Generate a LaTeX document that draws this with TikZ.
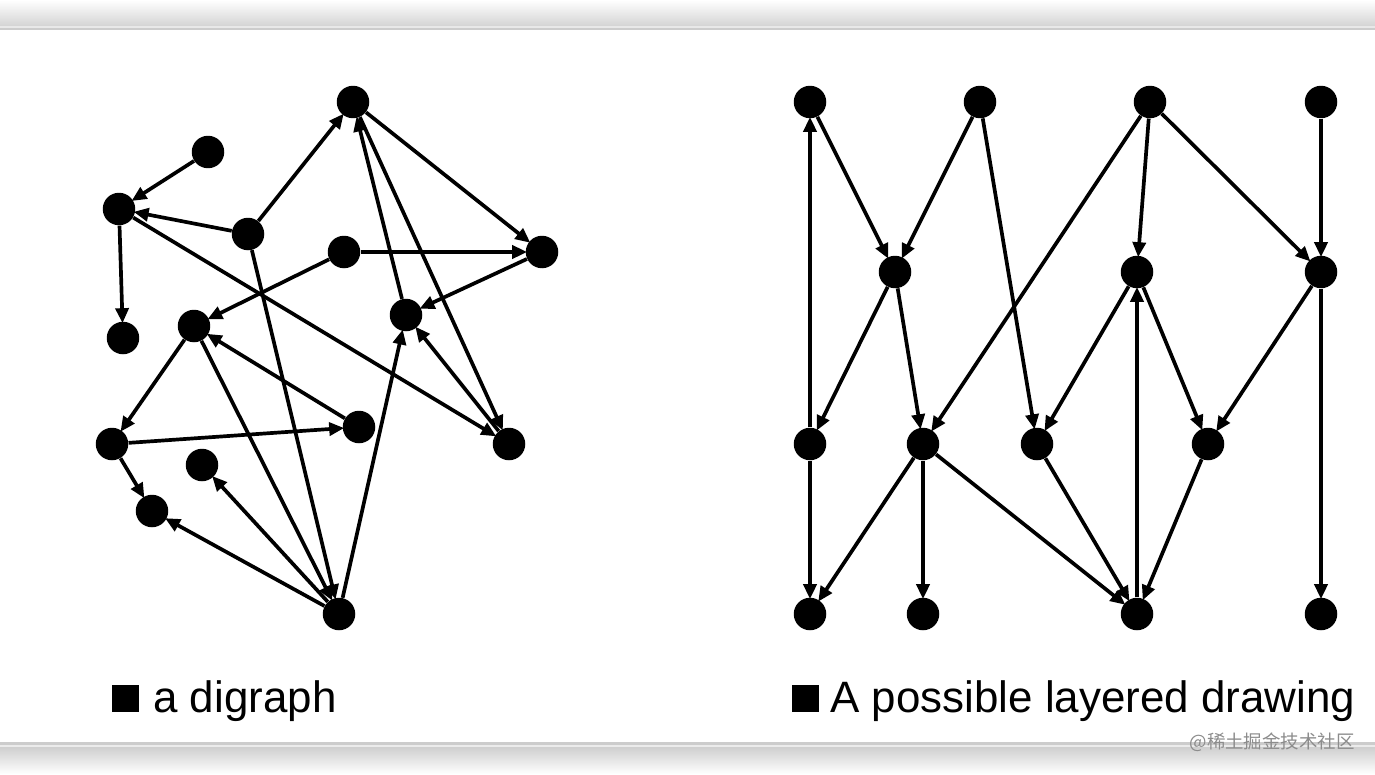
\documentclass[tikz,border=0pt]{standalone}
\usepackage{fontspec}
\setmainfont{Liberation Sans}
\newfontfamily\cjkfont{Noto Sans CJK SC}
\usetikzlibrary{arrows.meta}

\tikzset{
  vtx/.style={circle, fill=black, inner sep=0pt, minimum size=0.65cm},
  edge/.style={line width=2.1pt, -{Triangle[length=0.3cm, width=0.26cm]}, shorten >=-1pt},
  caption/.style={anchor=base west, inner sep=0pt, font=\fontsize{25}{30}\selectfont}
}

\begin{document}
\begin{tikzpicture}[x=0.02cm, y=-0.02cm]
             \useasboundingbox (0, 0) rectangle (1375, 774);
             % frame bands
             \shade[top color=white, bottom color=black!17] (0, 0) rectangle (1375, 26);
             \fill[black!9] (0, 26) rectangle (1375, 27.5);
             \fill[black!20] (0, 27.5) rectangle (1375, 30);
             \fill[black!20] (0, 742) rectangle (1375, 745);
             \fill[black!8] (0, 745) rectangle (1375, 747);
             \shade[top color=black!19, bottom color=white] (0, 747) rectangle (1375, 774);

             % the digraph
             \foreach \n/\x/\y in {l1/353/102, l2/208/152, l3/119/209, l4/248/234, l5/344/252,
                                  l6/542/252, l7/123/338, l8/194/326, l9/406/315, l10/112/444,
                                  l11/359/427, l12/509/444, l13/202/465, l14/152/511, l15/339/614}
                 \node[vtx] (\n) at (\x, \y) {};
             \foreach \a/\b in {l2/l3, l4/l3, l3/l7, l4/l1, l3/l12, l5/l8, l5/l6, l4/l15, l8/l15,
                                l1/l6, l9/l1, l1/l12, l6/l9, l12/l9, l15/l9, l8/l10, l10/l11,
                                l11/l8, l10/l14, l15/l14, l15/l13}
                 \draw[edge] (\a) -- (\b);

             % the layered drawing
             \foreach \n/\x/\y in {r1/810/102, r2/980/102, r3/1150/102, r4/1321/102,
                                  r5/895/272, r6/1137/272, r7/1321/272,
                                  r8/810/444, r9/923/444, r10/1037/444, r11/1208/444,
                                  r12/810/614, r13/923/614, r14/1137/614, r15/1321/614}
                 \node[vtx] (\n) at (\x, \y) {};
             \foreach \a/\b in {r8/r1, r1/r5, r2/r5, r2/r10, r3/r9, r3/r6, r3/r7, r4/r7,
                                r5/r8, r5/r9, r6/r10, r6/r11, r14/r6, r7/r11, r7/r15,
                                r8/r12, r9/r12, r9/r13, r9/r14, r10/r14, r11/r14}
                 \draw[edge] (\a) -- (\b);

             % captions
             \fill (112, 685) rectangle (139, 712);
             \node[caption] (capl) at (153, 712) {a digraph};
             \fill (792, 685) rectangle (819, 712);
             \node[caption] (capr) at (830, 712) {A possible layered drawing};
             \node[anchor=east, inner sep=0pt, text=black!45, font=\cjkfont\fontsize{10.5}{13}\selectfont]
                 (mark) at (1355, 742) {@稀土掘金技术社区};
        \end{tikzpicture}
\end{document}
